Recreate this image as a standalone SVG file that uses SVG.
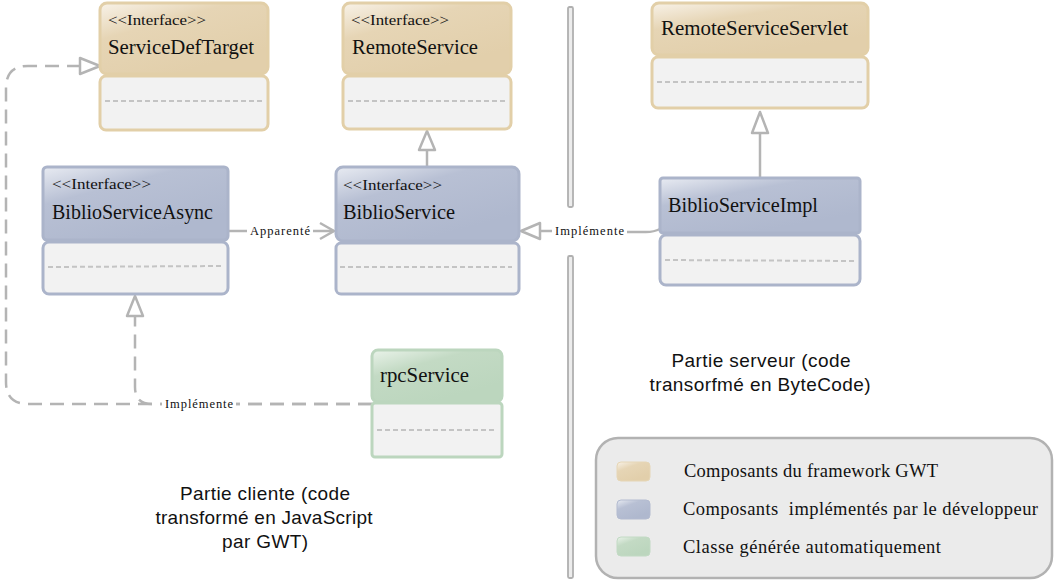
<svg xmlns="http://www.w3.org/2000/svg" width="1055" height="583" viewBox="0 0 1055 583">
<defs>
<linearGradient id="gTan" x1="0" y1="0" x2="0.6" y2="0.9">
<stop offset="0" stop-color="#f8f2e8"/><stop offset="0.4" stop-color="#e6d5b5"/><stop offset="1" stop-color="#e2cfab"/>
</linearGradient>
<linearGradient id="gBlue" x1="0" y1="0" x2="0.6" y2="0.9">
<stop offset="0" stop-color="#e8ebf2"/><stop offset="0.4" stop-color="#b8c0d4"/><stop offset="1" stop-color="#afb8ce"/>
</linearGradient>
<linearGradient id="gGreen" x1="0" y1="0" x2="0.6" y2="0.9">
<stop offset="0" stop-color="#eaf3ea"/><stop offset="0.4" stop-color="#c3dac4"/><stop offset="1" stop-color="#bcd6be"/>
</linearGradient>
<style>
.tan{fill:url(#gTan);stroke:#e2cfa8;stroke-width:3}
.tanb{fill:#f2f2f2;stroke:#e2cfa8;stroke-width:3}
.blue{fill:url(#gBlue);stroke:#abb4ca;stroke-width:3}
.blueb{fill:#f2f2f2;stroke:#abb4ca;stroke-width:3}
.green{fill:url(#gGreen);stroke:#bcd6be;stroke-width:3}
.greenb{fill:#f2f2f2;stroke:#bcd6be;stroke-width:3}
.sep{stroke:#c4c4c4;stroke-width:2;stroke-dasharray:5 3;fill:none}
.st{font-family:"Liberation Serif",serif;font-size:15.5px;fill:#111}
.nm{font-family:"Liberation Serif",serif;font-size:20px;fill:#111}
.lbl{font-family:"Liberation Serif",serif;font-size:12.5px;fill:#111}
.leg{font-family:"Liberation Serif",serif;font-size:18.5px;fill:#111}
.part{font-family:"Liberation Sans",Arial,sans-serif;font-size:19px;fill:#111;text-anchor:middle}
.ln{stroke:#b4b4b4;stroke-width:2.5;fill:none}
.dash{stroke:#b4b4b4;stroke-width:2.5;fill:none;stroke-dasharray:14 8}
.tri{fill:#ffffff;stroke:#b4b4b4;stroke-width:2.5;stroke-linejoin:round}
.div{fill:#ececec;stroke:#b0b0b0;stroke-width:1.8}
</style>
</defs>
<rect width="1055" height="583" fill="#ffffff"/>

<g id="dividers">
<rect class="div" x="568" y="7" width="5" height="200" rx="1.5"/>
<rect class="div" x="568" y="256" width="5" height="322" rx="1.5"/>
</g>

<g id="connectors">
<line class="ln" x1="427" y1="167" x2="427" y2="150"/>
<polygon class="tri" points="427,131 435,150 419,150"/>
<line class="ln" x1="760" y1="178" x2="760" y2="133"/>
<polygon class="tri" points="760,112 768,133 752,133"/>
<line class="ln" x1="229" y1="231" x2="247" y2="231"/>
<line class="ln" x1="313" y1="231" x2="334" y2="231"/>
<polyline class="ln" points="320,223 334,231 320,239"/>
<text class="lbl" x="250" y="235" textLength="60">Apparenté</text>
<polygon class="tri" points="521,231 540,223 540,239"/>
<line class="ln" x1="540" y1="231" x2="552" y2="231"/>
<text class="lbl" x="555" y="235" textLength="69">Implémente</text>
<path class="ln" d="M627,232 H646 Q654,232 660,229"/>
<path class="dash" d="M372,404 H152 Q135,404 135,387 V316"/>
<polygon class="tri" points="135,296 143,316 127,316"/>
<path class="dash" d="M372,404 H28 Q6,404 6,382 V88 Q6,66 28,66 H80"/>
<polygon class="tri" points="100,66 80,58 80,74"/>
<rect x="162" y="396" width="74" height="16" fill="#ffffff"/>
<text class="lbl" x="165" y="408" textLength="68">Implémente</text>
</g>

<g id="ServiceDefTarget">
<rect class="tanb" x="100" y="76" width="168" height="54" rx="6"/>
<rect class="tan" x="100" y="3" width="168" height="71" rx="7"/>
<line class="sep" x1="105" y1="101" x2="262" y2="101"/>
<text class="st" x="108" y="25" textLength="98" lengthAdjust="spacingAndGlyphs">&lt;&lt;Interface&gt;&gt;</text>
<text class="nm" x="108" y="54" textLength="146" lengthAdjust="spacingAndGlyphs">ServiceDefTarget</text>
</g>

<g id="RemoteService">
<rect class="tanb" x="343" y="76" width="168" height="53" rx="6"/>
<rect class="tan" x="343" y="3" width="168" height="71" rx="7"/>
<line class="sep" x1="348" y1="101" x2="505" y2="101"/>
<text class="st" x="351" y="25" textLength="98" lengthAdjust="spacingAndGlyphs">&lt;&lt;Interface&gt;&gt;</text>
<text class="nm" x="352" y="54" textLength="126" lengthAdjust="spacingAndGlyphs">RemoteService</text>
</g>

<g id="RemoteServiceServlet">
<rect class="tanb" x="652" y="57" width="216" height="51" rx="6"/>
<rect class="tan" x="652" y="3" width="216" height="52" rx="7"/>
<line class="sep" x1="657" y1="82" x2="862" y2="82"/>
<text class="nm" x="661" y="35" textLength="187" lengthAdjust="spacingAndGlyphs">RemoteServiceServlet</text>
</g>

<g id="BiblioServiceAsync">
<rect class="blueb" x="43" y="242" width="185" height="52" rx="6"/>
<rect class="blue" x="43" y="167" width="185" height="73" rx="4"/>
<line class="sep" x1="48" y1="267" x2="222" y2="266"/>
<text class="st" x="52" y="189" textLength="99" lengthAdjust="spacingAndGlyphs">&lt;&lt;Interface&gt;&gt;</text>
<text class="nm" x="52" y="219" textLength="161" lengthAdjust="spacingAndGlyphs">BiblioServiceAsync</text>
</g>

<g id="BiblioService">
<rect class="blueb" x="336" y="243" width="183" height="51" rx="5"/>
<rect class="blue" x="336" y="167" width="183" height="74" rx="7"/>
<line class="sep" x1="340" y1="267" x2="512" y2="267"/>
<text class="st" x="343" y="190" textLength="99" lengthAdjust="spacingAndGlyphs">&lt;&lt;Interface&gt;&gt;</text>
<text class="nm" x="343" y="219" textLength="112" lengthAdjust="spacingAndGlyphs">BiblioService</text>
</g>

<g id="BiblioServiceImpl">
<rect class="blueb" x="660" y="235" width="200" height="50" rx="6"/>
<rect class="blue" x="660" y="178" width="200" height="55" rx="3"/>
<line class="sep" x1="665" y1="260" x2="854" y2="261"/>
<text class="nm" x="668" y="212" textLength="150" lengthAdjust="spacingAndGlyphs">BiblioServiceImpl</text>
</g>

<g id="rpcService">
<rect class="greenb" x="372" y="403" width="130" height="54" rx="3"/>
<rect class="green" x="372" y="350" width="130" height="52" rx="6"/>
<line class="sep" x1="377" y1="430" x2="496" y2="430"/>
<text class="nm" x="380" y="382" textLength="89" lengthAdjust="spacingAndGlyphs">rpcService</text>
</g>

<g id="captions">
<text class="part" x="265" y="500" textLength="170">Partie cliente (code</text>
<text class="part" x="264" y="524" textLength="217">transformé en JavaScript</text>
<text class="part" x="265" y="548" textLength="86">par GWT)</text>
<text class="part" x="761" y="367" textLength="179">Partie serveur (code</text>
<text class="part" x="760" y="391" textLength="221">transorfmé en ByteCode)</text>
</g>

<g id="legend">
<rect x="596" y="438" width="456" height="140" rx="22" fill="#ebebeb" stroke="#b2b2b2" stroke-width="2.5"/>
<rect x="617" y="462" width="33" height="19" rx="4" fill="url(#gTan)" stroke="#e6d6b6" stroke-width="1"/>
<rect x="617" y="500" width="33" height="19" rx="4" fill="url(#gBlue)" stroke="#b3bbd0" stroke-width="1"/>
<rect x="617" y="537" width="33" height="19" rx="4" fill="url(#gGreen)" stroke="#c2dac4" stroke-width="1"/>
<text class="leg" x="684" y="477" textLength="254">Composants du framework GWT</text>
<text class="leg" x="683" y="515" textLength="355" xml:space="preserve">Composants  implémentés par le développeur</text>
<text class="leg" x="683" y="553" textLength="258">Classe générée automatiquement</text>
</g>
</svg>
